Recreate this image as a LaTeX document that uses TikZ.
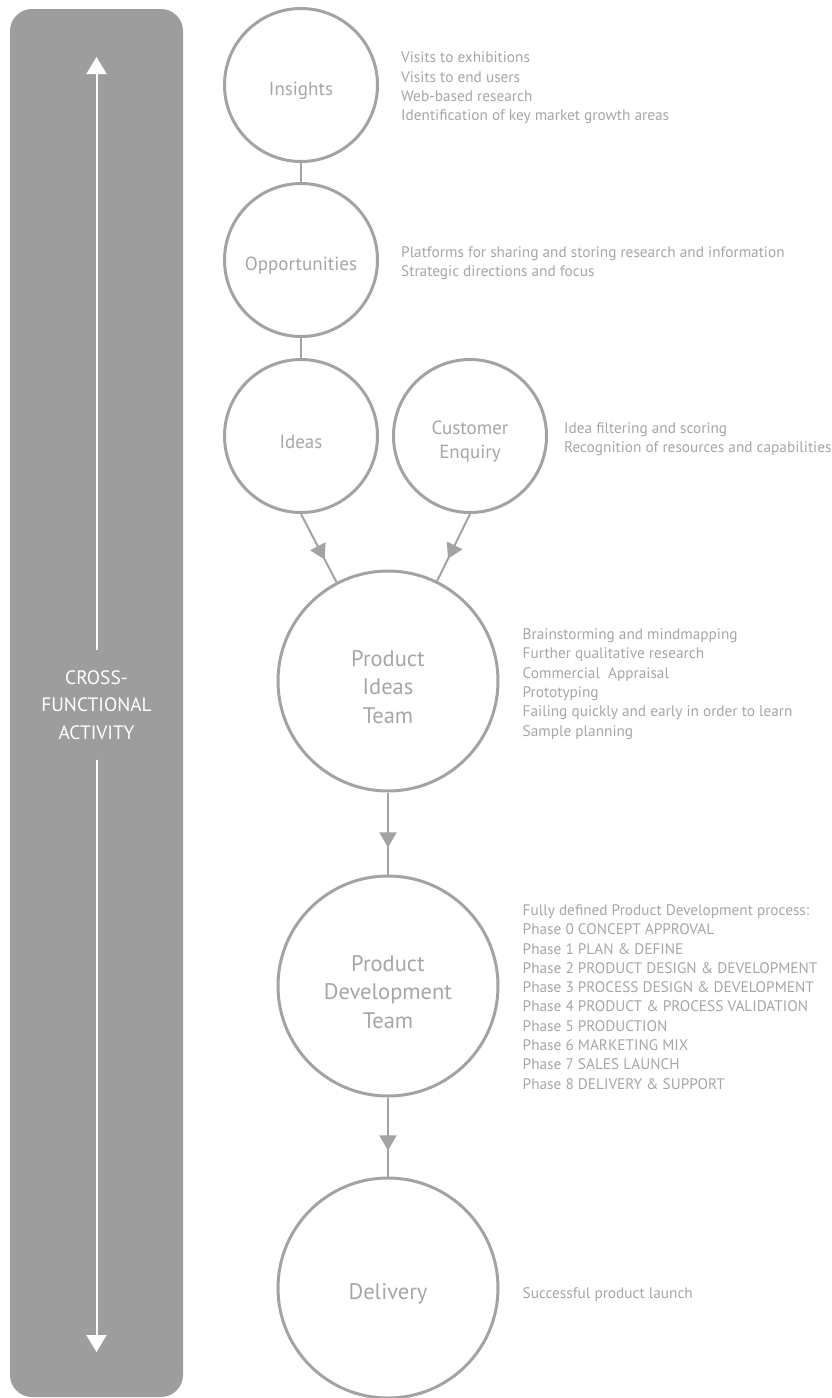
\documentclass[tikz,border=0pt]{standalone}
\usepackage{fontspec}
\setmainfont{PT Sans}
\usepackage{tikz}
\usetikzlibrary{arrows.meta, positioning, decorations.markings}
\usepackage{xcolor}

\definecolor{barfill}{HTML}{9D9D9D}
\definecolor{ringgray}{HTML}{A3A3A3}
\definecolor{labelgray}{HTML}{A6A6A6}

\begin{document}
\begin{tikzpicture}[
    x=1pt, y=1pt,
    node distance=20pt,
    ring/.style={
      draw=ringgray,
      line width=3pt,
      circle,
      inner sep=0pt
    },
    stage/.style={
      ring,
      minimum size=153pt,
      label={[stagetext]center:#1}
    },
    team/.style={
      ring,
      minimum size=220pt,
      label={[teamtext]center:#1}
    },
    stagetext/.style={
      align=center,
      text=labelgray,
      yshift=-6pt,
      font=\fontsize{19}{24}\selectfont
    },
    teamtext/.style={
      stagetext,
      font=\fontsize{22.5}{28.5}\selectfont
    },
    notes/.style={
      anchor=west,
      align=left,
      inner sep=0pt,
      yshift=-3pt,
      text=labelgray,
      font=\fontsize{15.3}{19.3}\selectfont
    },
    link/.style={draw=ringgray, line width=2pt},
    flow/.style={
      link,
      color=ringgray,
      postaction={decorate},
      decoration={markings,
        mark=at position 0.67 with {\arrow{Triangle[width=17pt,length=15pt]}}}
    },
    span/.style={white, line width=2pt, -{Triangle[width=20pt,length=17pt]}}
  ]

  \useasboundingbox (0,0) rectangle (832,-1398);

  % Cross-functional bar (left side)
  \node[fill=barfill, rounded corners=22pt, minimum width=173pt,
        minimum height=1388pt, inner sep=0pt] (bar) at (96.5,-703) {};
  \node[text=white, align=center, font=\fontsize{19.4}{27.5}\selectfont,
        minimum height=109pt, inner sep=0pt] (activity) at (96.5,-705)
        {CROSS-\\FUNCTIONAL\\ACTIVITY};
  \coordinate (uptip) at (96.5,-57);
  \coordinate (downtip) at (96.5,-1352);
  \draw[span] (activity.north) -- (uptip);
  \draw[span] (activity.south) -- (downtip);

  % Stages
  \node[stage=Insights] (insights) at (301,-85) {};
  \node[stage=Opportunities, below=19pt of insights] (opportunities) {};
  \node[stage=Ideas, below=20pt of opportunities] (ideas) {};
  \node[stage={Customer\\Enquiry}, right=13pt of ideas] (enquiry) {};

  % Teams
  \node[team={Product\\Ideas\\Team}] (ideasteam) at (388,-681) {};
  \node[team={Product\\Development\\Team}, below=82pt of ideasteam] (devteam) {};
  \node[team=Delivery, below=79pt of devteam] (delivery) {};

  % Connections
  \draw[link] (insights) -- (opportunities);
  \draw[link] (opportunities) -- (ideas);
  \draw[flow] (ideas.south) -- (ideasteam);
  \draw[flow] (enquiry.south) -- (ideasteam);
  \draw[flow] (ideasteam) -- (devteam);
  \draw[flow] (devteam) -- (delivery);

  % Notes (right side)
  \node[notes, right=22pt of insights] (insightsnotes)
    {Visits to exhibitions\\Visits to end users\\Web-based research\\Identification of key market growth areas};
  \node[notes, right=22pt of opportunities] (oppnotes)
    {Platforms for sharing and storing research and information\\Strategic directions and focus};
  \node[notes, right=16pt of enquiry] (enquirynotes)
    {Idea filtering and scoring\\Recognition of resources and capabilities};
  \node[notes, right=23pt of ideasteam] (ideasnotes)
    {Brainstorming and mindmapping\\Further qualitative research\\Commercial\ \ Appraisal\\Prototyping\\Failing quickly and early in order to learn\\Sample planning};
  \node[notes, right=23pt of devteam, yshift=-8pt] (devnotes)
    {Fully defined Product Development process:\\Phase 0 CONCEPT APPROVAL\\Phase 1 PLAN \& DEFINE\\Phase 2 PRODUCT DESIGN \& DEVELOPMENT\\Phase 3 PROCESS DESIGN \& DEVELOPMENT\\Phase 4 PRODUCT \& PROCESS VALIDATION\\Phase 5 PRODUCTION\\Phase 6 MARKETING MIX\\Phase 7 SALES LAUNCH\\Phase 8 DELIVERY \& SUPPORT};
  \node[notes, right=23pt of delivery, yshift=-4pt] (deliverynotes) {Successful product launch};

\end{tikzpicture}
\end{document}
